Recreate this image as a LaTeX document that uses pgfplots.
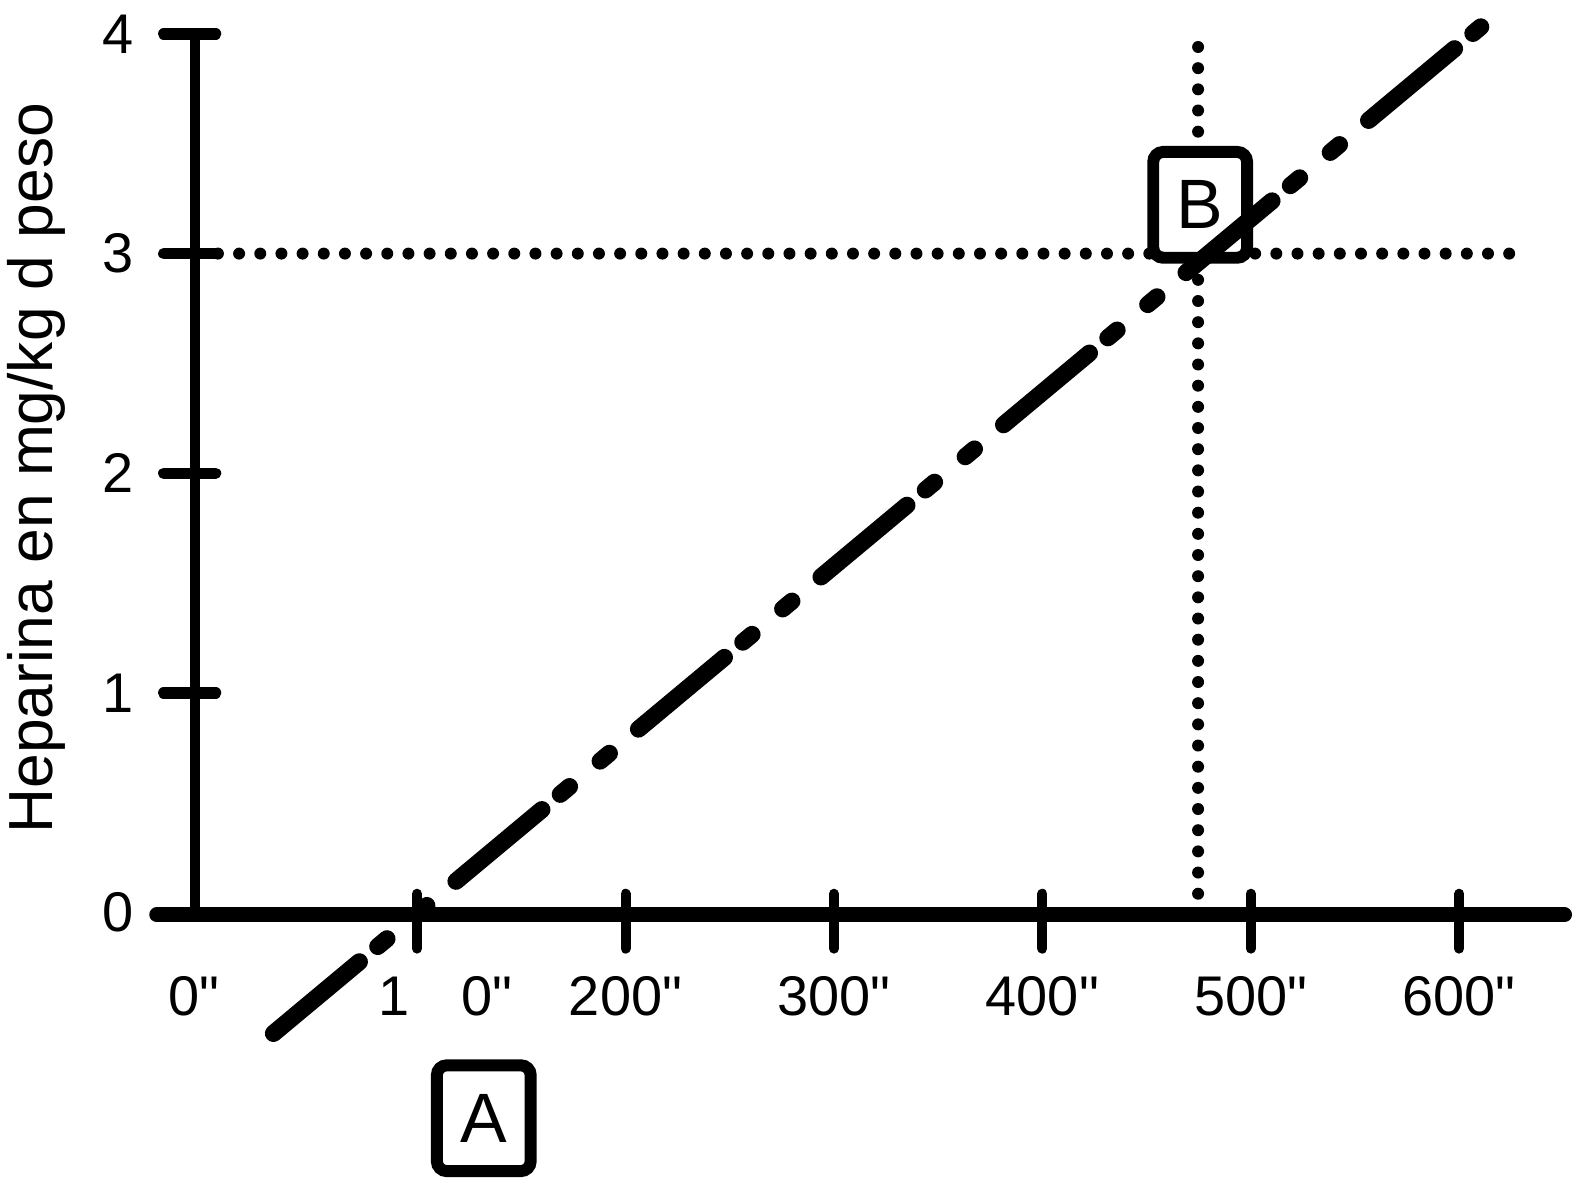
\documentclass[border=0pt]{standalone}
\usepackage{fontspec}
\setmainfont{Liberation Sans}[Ligatures=TeXOff]
\usepackage{pgfplots}
\pgfplotsset{compat=1.18}

\tikzset{
  dotline/.style={line width=3pt, line cap=round, dash pattern=on 0pt off 5.3pt},
  boxlabel/.style={draw, line width=3pt, rounded corners=2.5pt, fill=white,
    minimum width=23.5pt, minimum height=26.5pt, inner sep=0pt,
    font=\fontsize{17.5}{20}\selectfont},
}

\begin{document}
\begin{tikzpicture}
\begin{axis}[
  x=0.521875pt, y=55pt,
  xmin=-100.1, xmax=652.9, ymin=-1.191, ymax=4.1545,
  axis x line=middle, axis y line=middle,
  axis line style={draw=none},
  hide obscured x ticks=false, hide obscured y ticks=false,
  major tick length=0pt,
  clip=false,
  xtick={-7,100,200,300,400,500,600},
  xticklabels={0", {\makebox[0pt]{\makebox[0pt][r]{1\kern1.8pt}\makebox[0pt][l]{\kern11.2pt 0"}}}, 200", 300", 400", 500", 600"},
  ytick={0,1,2,3,4},
  yticklabels={0,1,2,3,4},
  tick label style={font=\fontsize{14}{16}\selectfont},
  xticklabel style={anchor=north, yshift=-12.5pt},
  yticklabel style={anchor=east, xshift=-15.25pt},
]
\path (rel axis cs:0,0) rectangle (rel axis cs:1,1);

% axes
\addplot[line width=2.5pt] coordinates {(-6.7,-0.01) (-6.7,4.0)};
\addplot[line width=3.75pt, line cap=round] coordinates {(-24.9,-0.01) (650.5,-0.01)};
\addplot[line width=2.8pt, line cap=round, unbounded coords=jump] coordinates {
  (-21.6,1) (3.4,1) (nan,nan)
  (-21.6,2) (3.4,2) (nan,nan)
  (-21.6,3) (3.4,3) (nan,nan)
  (-21.6,4) (3.4,4)
};
\addplot[line width=2.5pt, line cap=round, unbounded coords=jump] coordinates {
  (100,0.086) (100,-0.164) (nan,nan)
  (200,0.086) (200,-0.164) (nan,nan)
  (300,0.086) (300,-0.164) (nan,nan)
  (400,0.086) (400,-0.164) (nan,nan)
  (500,0.086) (500,-0.164) (nan,nan)
  (600,0.086) (600,-0.164)
};

% guide lines
\addplot[dotline] coordinates {(-5.7,3.0) (632.8,3.0)};
\addplot[dotline] coordinates {(474.7,0.086) (474.7,3.98)};

\node[boxlabel] at (axis cs:475.7,3.222) {B};

% dose line
\addplot[line width=4.3pt, line cap=round,
  dash pattern=on 28pt off 6pt on 3pt off 10pt on 3pt off 9.5pt]
  coordinates {(31.1,-0.55) (610.3,4.032)};

\node[boxlabel] at (axis cs:132,-0.936) {A};

\node[rotate=90, anchor=base, inner sep=0pt, font=\fontsize{15.6}{18}\selectfont]
  at (axis cs:-74.7,2.023) {Heparina en mg/kg d peso};
\end{axis}
\end{tikzpicture}
\end{document}
